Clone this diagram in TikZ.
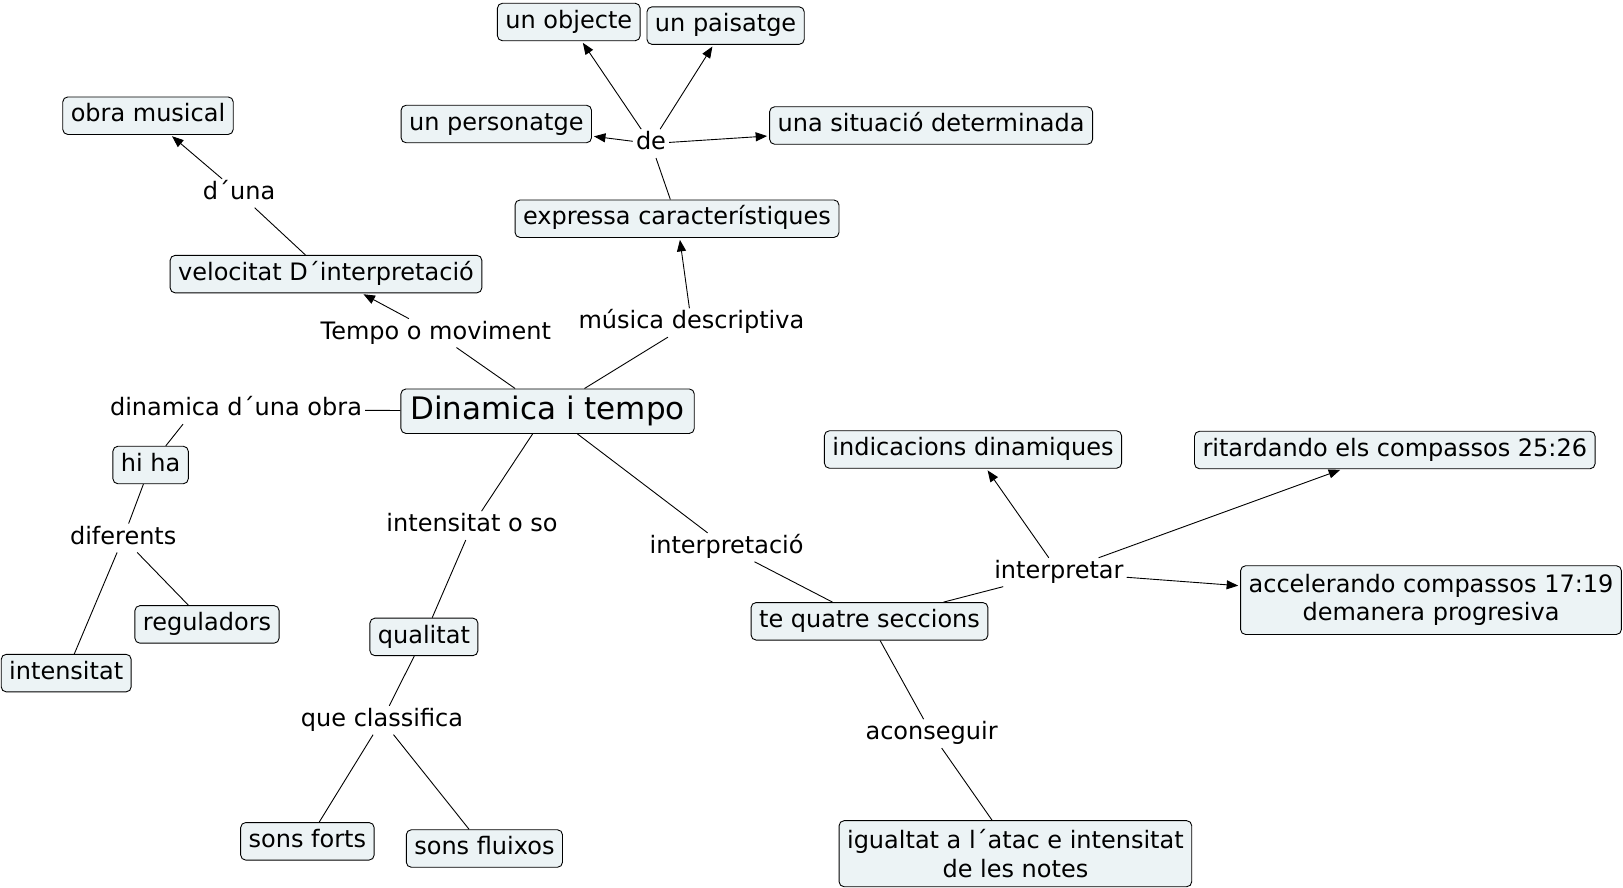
\documentclass[tikz,border=0pt]{standalone}
\usepackage{fontspec}
\setmainfont{DejaVu Sans}
\usetikzlibrary{arrows.meta,calc}
\definecolor{cfill}{RGB}{236,243,245}
\begin{document}
\begin{tikzpicture}[x=1pt,y=-1pt,
 concept/.style={draw=black, line width=0.9pt, fill=cfill, rounded corners=5pt, inner xsep=8pt, inner ysep=7.5pt, text height=17.5pt, text depth=5pt, font=\fontsize{24}{28.5}\selectfont},
 concepttwo/.style={draw=black, line width=0.9pt, fill=cfill, rounded corners=5pt, inner xsep=8pt, inner ysep=8.5pt, align=center, font=\fontsize{24}{28.5}\selectfont},
 linkph/.style={inner sep=3pt, text height=17.5pt, text depth=5pt, font=\fontsize{24}{28.5}\selectfont},
 conn/.style={line width=0.9pt},
 arr/.style={conn, -{Triangle[length=11.5pt,width=9pt]}, shorten >=2pt}]
\useasboundingbox (0,0) rectangle (1623,887);
% concepts
\node[concept] (ob) at (568.8,22) {un objecte};
\node[concept] (pa) at (725.6,25.6) {un paisatge};
\node[concept] (om) at (148,115.7) {obra musical};
\node[concept] (pe) at (496.3,124) {un personatge};
\node[concept] (si) at (931.1,125.5) {una situació determinada};
\node[concept] (ex) at (677,218.7) {expressa característiques};
\node[concept] (ve) at (326,274.1) {velocitat D´interpretació};
\node[concept, inner xsep=9.5pt, inner ysep=7pt, text height=23.5pt, text depth=7pt, font=\fontsize{31}{36}\selectfont] (di) at (547.6,411.2) {Dinamica i tempo};
\node[concept] (hh) at (150.6,465) {hi ha};
\node[concept] (id) at (973,449.5) {indicacions dinamiques};
\node[concept] (ri) at (1394.8,450) {ritardando els compassos 25:26};
\node[concept] (re) at (207,624.4) {reguladors};
\node[concept] (in) at (66.2,673.1) {intensitat};
\node[concept] (qu) at (423.9,636.9) {qualitat};
\node[concept] (te) at (869.5,621.3) {te quatre seccions};
\node[concepttwo] (ac) at (1431,600.1) {accelerando compassos 17:19\\demanera progresiva};
\node[concept] (sf) at (307.4,841.3) {sons forts};
\node[concept] (sx) at (484.4,848.5) {sons fluixos};
\node[concepttwo, inner ysep=9pt] (ig) at (1015.4,853.7) {igualtat a l´atac e intensitat\\de les notes};
% linking phrases
\node[linkph] (de) at (651,143.6) {de};
\node[linkph] (duna) at (239.1,193.3) {d´una};
\node[linkph] (tm) at (435.8,333.1) {Tempo o moviment};
\node[linkph] (md) at (691.4,322.7) {música descriptiva};
\node[linkph] (dob) at (236,409.7) {dinamica d´una obra};
\node[linkph] (dif) at (123.2,538) {diferents};
\node[linkph] (ios) at (472,525.6) {intensitat o so};
\node[linkph] (ipc) at (726.6,547.3) {interpretació};
\node[linkph] (ipt) at (1058.9,572.2) {interpretar};
\node[linkph] (qc) at (382,720.2) {que classifica};
\node[linkph] (acs) at (931.6,733.6) {aconseguir};
\coordinate (dobs) at ($(dob.south)+(-53,0)$);
% connectors
\draw[conn] (di) -- (tm);
\draw[arr] (tm) -- (ve);
\draw[conn] (ve) -- (duna);
\draw[arr] (duna) -- (om);
\draw[conn] (di) -- (md);
\draw[arr] (md) -- (ex);
\draw[conn] (ex) -- (de);
\draw[arr] (de) -- (ob);
\draw[arr] (de) -- (pa);
\draw[arr] (de) -- (pe);
\draw[arr] (de) -- (si);
\draw[conn] (di) -- (dob);
\draw[conn] (dobs) -- (hh);
\draw[conn] (hh) -- (dif);
\draw[conn] (dif) -- (re);
\draw[conn] (dif) -- (in);
\draw[conn] (di) -- (ios);
\draw[conn] (ios) -- (qu);
\draw[conn] (qu) -- (qc);
\draw[conn] (qc) -- (sf);
\draw[conn] (qc) -- (sx);
\draw[conn] (di) -- (ipc);
\draw[conn] (ipc) -- (te);
\draw[conn] (te) -- (ipt);
\draw[arr] (ipt) -- (id);
\draw[arr] (ipt) -- (ri);
\draw[arr] (ipt) -- (ac);
\draw[conn] (te) -- (acs);
\draw[conn] (acs) -- (ig);
\end{tikzpicture}
\end{document}
